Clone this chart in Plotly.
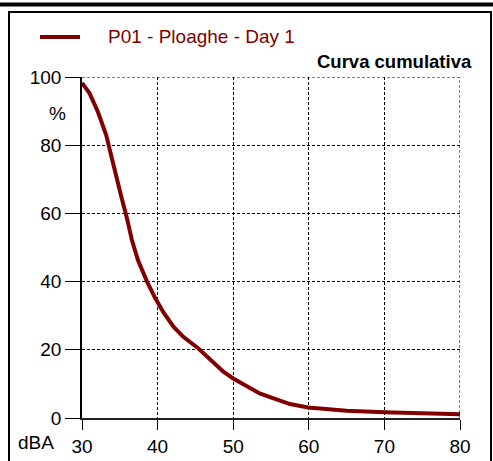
import plotly.graph_objects as go

# Data
db = [30.0, 31.0, 32.1, 33.2, 33.9, 34.5, 35.2, 35.9, 36.6, 37.4, 38.6, 39.7,
      40.8, 42.1, 43.4, 45.4, 47.4, 48.7, 50.0, 51.8, 53.5, 55.9, 57.5, 59.9, 65.0, 70.0, 80.0]
pct = [98.3, 95.2, 89.8, 83.0, 76.6, 70.8, 64.9, 59.0, 52.2, 46.3, 40.0, 35.1,
       30.9, 26.8, 23.8, 20.4, 16.5, 13.6, 11.6, 9.2, 7.2, 5.3, 4.1, 3.1, 2.1, 1.7, 1.1]
x_ticks = [30, 40, 50, 60, 70, 80]
y_ticks = [0, 20, 40, 60, 80, 100]
series_name = "P01 - Ploaghe - Day 1"
chart_title = "Curva cumulativa"

W, H = 493, 461
L, R, T, B = 82, 460, 77, 418
PW, PH = R - L, B - T

def px(x):
    return (x - L) / PW

def py(y):
    return (B - y) / PH

FONT = "Liberation Sans, Arial, sans-serif"
RED = "#800000"
DASH = "3px,2px"
FS = 19

fig = go.Figure()
fig.add_trace(go.Scatter(x=db, y=pct, mode="lines", name=series_name,
                         line=dict(color=RED, width=4), showlegend=False))

fig.update_layout(
    width=W, height=H, autosize=False,
    margin=dict(l=L, r=W - R, t=T, b=H - B, pad=0, autoexpand=False),
    paper_bgcolor="white", plot_bgcolor="white",
    font=dict(family=FONT, size=FS, color="black"),
    xaxis=dict(range=[x_ticks[0], x_ticks[-1]], tickvals=x_ticks, ticks="outside", ticklen=10,
               tickcolor="black", tickwidth=1, showgrid=True, gridcolor="black",
               griddash=DASH, gridwidth=1, showline=True, linecolor="#222",
               linewidth=1.5, zeroline=False, automargin=False, tickfont=dict(size=FS)),
    yaxis=dict(range=[y_ticks[0], y_ticks[-1]], tickvals=y_ticks, ticks="outside", ticklen=15,
               tickcolor="black", tickwidth=1, showgrid=True, gridcolor="black",
               griddash=DASH, gridwidth=1, showline=True, linecolor="black",
               linewidth=1.5, zeroline=False, automargin=False, tickfont=dict(size=FS)),
    shapes=[
        # dashed grid lines on the upper and right borders
        dict(type="line", xref="x", yref="paper", x0=x_ticks[-1], x1=x_ticks[-1], y0=0, y1=1,
             line=dict(color="black", width=1, dash=DASH), layer="below"),
        dict(type="line", xref="paper", yref="y", x0=0, x1=1, y0=y_ticks[-1], y1=y_ticks[-1],
             line=dict(color="black", width=1, dash=DASH), layer="below"),
        # frame decoration
        dict(type="line", xref="paper", yref="paper", x0=px(0), x1=px(W), y0=py(4.5), y1=py(4.5),
             line=dict(color="black", width=4)),
        dict(type="rect", xref="paper", yref="paper", x0=px(9), x1=px(491), y0=py(12), y1=py(470),
             line=dict(color="black", width=2)),
        # legend sample
        dict(type="line", xref="paper", yref="paper", x0=px(40), x1=px(80), y0=py(37), y1=py(37),
             line=dict(color=RED, width=4)),
    ],
    annotations=[
        dict(text=series_name, xref="paper", yref="paper", x=px(106), y=py(36),
             xanchor="left", yanchor="middle", showarrow=False,
             font=dict(size=FS, color=RED)),
        dict(text="<b>" + chart_title + "</b>", xref="paper", yref="paper", x=px(474), y=py(61),
             xanchor="right", yanchor="middle", showarrow=False,
             font=dict(size=18.5, color="black")),
        dict(text="%", xref="paper", yref="paper", x=px(57), y=py(113),
             xanchor="center", yanchor="middle", showarrow=False,
             font=dict(size=FS, color="black")),
        dict(text="dBA", xref="paper", yref="paper", x=px(16), y=py(442),
             xanchor="left", yanchor="middle", showarrow=False,
             font=dict(size=FS, color="black")),
    ],
)

fig.write_html("out.html", config={"displayModeBar": False},
               post_script="document.body.style.margin='0';document.body.style.overflow='hidden';")
